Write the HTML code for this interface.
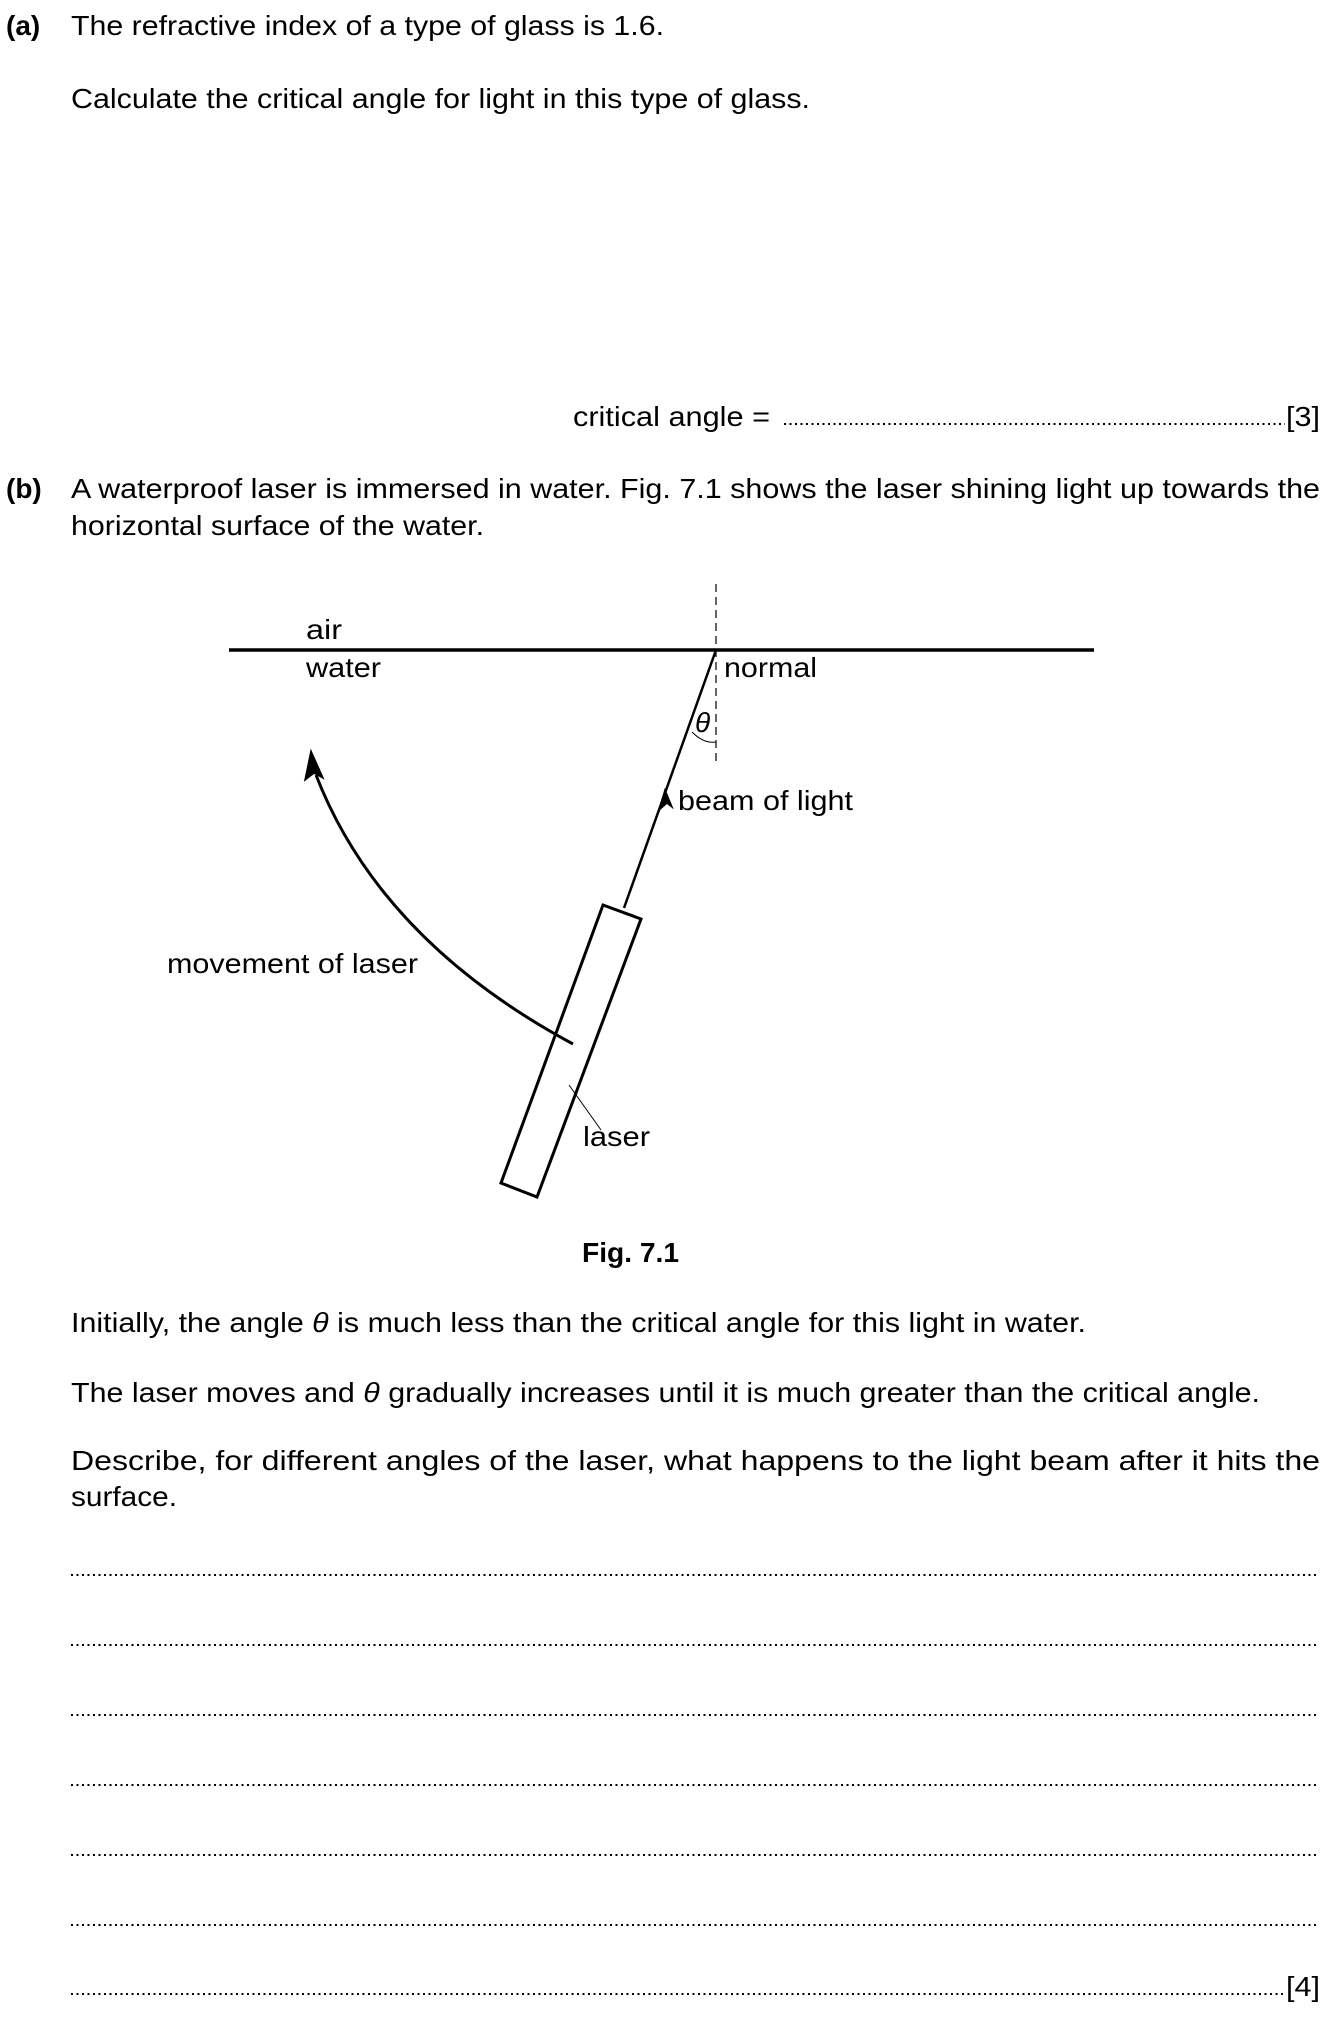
<!DOCTYPE html>
<html><head><meta charset="utf-8"><style>
html,body{margin:0;padding:0;background:#fff;}
svg{display:block;}
text{font-family:"Liberation Sans",Arial,sans-serif;font-size:28px;fill:#000;}
.b{font-weight:bold;}
.dots{stroke:#000;stroke-width:2;stroke-dasharray:2 3.5;}
</style></head><body>
<svg width="1335" height="2017" viewBox="0 0 1335 2017" xmlns="http://www.w3.org/2000/svg">
<text x="6" y="35" class="b">(a)</text>
<text x="71" y="35" textLength="593" lengthAdjust="spacingAndGlyphs">The refractive index of a type of glass is 1.6.</text>
<text x="71" y="108" textLength="739" lengthAdjust="spacingAndGlyphs">Calculate the critical angle for light in this type of glass.</text>
<text x="573" y="426" textLength="197" lengthAdjust="spacingAndGlyphs">critical angle =</text>
<line x1="784" y1="424" x2="1285" y2="424" class="dots"/>
<text x="1286" y="426" textLength="34" lengthAdjust="spacingAndGlyphs">[3]</text>

<text x="6" y="498" class="b">(b)</text>
<text x="71" y="498" textLength="1249" lengthAdjust="spacingAndGlyphs">A waterproof laser is immersed in water. Fig. 7.1 shows the laser shining light up towards the</text>
<text x="71" y="535" textLength="413" lengthAdjust="spacingAndGlyphs">horizontal surface of the water.</text>

<line x1="229" y1="650" x2="1094" y2="650" stroke="#000" stroke-width="3.5"/>
<line x1="716" y1="584" x2="716" y2="762" stroke="#000" stroke-width="1.2" stroke-dasharray="8 5"/>
<text x="306" y="639" textLength="36" lengthAdjust="spacingAndGlyphs">air</text>
<text x="306" y="677" textLength="75" lengthAdjust="spacingAndGlyphs">water</text>
<text x="724" y="677" textLength="93" lengthAdjust="spacingAndGlyphs">normal</text>
<line x1="716" y1="650" x2="624" y2="908" stroke="#000" stroke-width="2.5"/>
<path d="M665,790 L659,810 L667,803 L672,807 Z" fill="#000" stroke="#000" stroke-width="1.5"/>
<text x="695" y="732" font-style="italic" font-size="24">θ</text>
<path d="M692,732 Q704,744 716,742" fill="none" stroke="#000" stroke-width="1"/>
<text x="678" y="810" textLength="175" lengthAdjust="spacingAndGlyphs">beam of light</text>
<polygon points="603,905 641,919 537,1197 501,1183" fill="none" stroke="#000" stroke-width="3"/>
<line x1="569" y1="1085" x2="601" y2="1130" stroke="#000" stroke-width="1"/>
<text x="583" y="1146" textLength="67" lengthAdjust="spacingAndGlyphs">laser</text>
<path d="M573,1044 Q380,940 316,775" fill="none" stroke="#000" stroke-width="3"/>
<path d="M311,751 L305,780 L314,773 L323,778 Z" fill="#000" stroke="#000" stroke-width="1.5"/>
<text x="167" y="973" textLength="251" lengthAdjust="spacingAndGlyphs">movement of laser</text>
<text x="582" y="1262" class="b" textLength="97" lengthAdjust="spacingAndGlyphs">Fig. 7.1</text>

<text x="71" y="1332" textLength="1015" lengthAdjust="spacingAndGlyphs">Initially, the angle <tspan font-style="italic">θ</tspan> is much less than the critical angle for this light in water.</text>
<text x="71" y="1402" textLength="1189" lengthAdjust="spacingAndGlyphs">The laser moves and <tspan font-style="italic">θ</tspan> gradually increases until it is much greater than the critical angle.</text>
<text x="71" y="1470" textLength="1249" lengthAdjust="spacingAndGlyphs">Describe, for different angles of the laser, what happens to the light beam after it hits the</text>
<text x="71" y="1506" textLength="106" lengthAdjust="spacingAndGlyphs">surface.</text>

<line x1="71" y1="1575" x2="1319" y2="1575" class="dots"/>
<line x1="71" y1="1645" x2="1319" y2="1645" class="dots"/>
<line x1="71" y1="1715" x2="1319" y2="1715" class="dots"/>
<line x1="71" y1="1785" x2="1319" y2="1785" class="dots"/>
<line x1="71" y1="1855" x2="1319" y2="1855" class="dots"/>
<line x1="71" y1="1925" x2="1319" y2="1925" class="dots"/>
<line x1="71" y1="1994" x2="1284" y2="1994" class="dots"/>
<text x="1286" y="1996" textLength="34" lengthAdjust="spacingAndGlyphs">[4]</text>
</svg>
</body></html>
